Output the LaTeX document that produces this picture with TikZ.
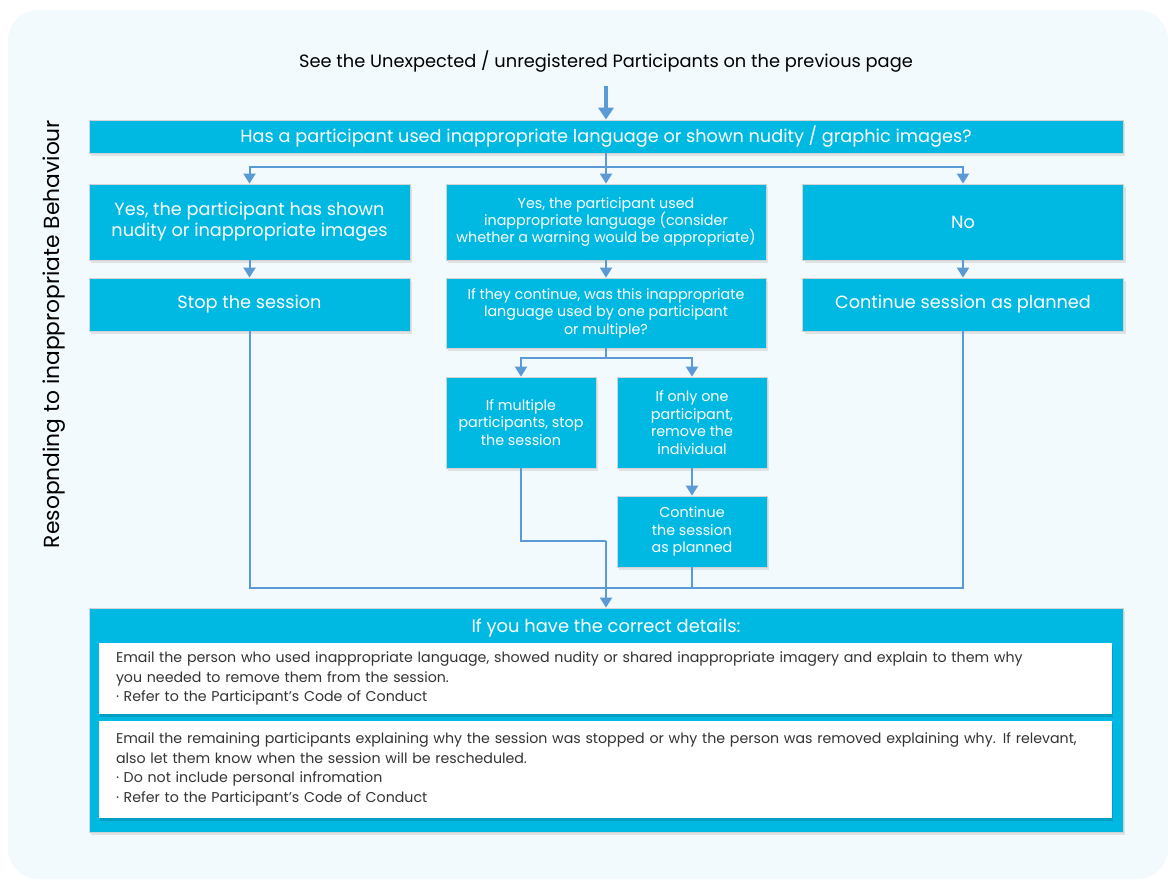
\documentclass[tikz,border=0pt]{standalone}
\usepackage{fontspec}
\setmainfont{Poppins}
\usetikzlibrary{arrows.meta,shadows}
\definecolor{bgpale}{HTML}{F3FAFD}
\definecolor{boxcyan}{HTML}{00B9E3}
\definecolor{deepcyan}{HTML}{009CC0}
\definecolor{flowblue}{HTML}{5B9BD5}
\definecolor{textgrey}{HTML}{333333}
\begin{document}
\begin{tikzpicture}[x=1pt,y=-1pt,
  cbox/.style={fill=boxcyan,draw=gray!35,line width=0.8pt,text=white,align=center,inner sep=0pt,
    drop shadow={shadow xshift=2pt,shadow yshift=-3pt,opacity=0.18}},
  wbox/.style={fill=white,text=textgrey,align=left,inner xsep=17pt,inner ysep=0pt,text width=979pt,
    minimum width=1013pt,font=\fontsize{14.2}{19.6}\selectfont,
    drop shadow={shadow xshift=1pt,shadow yshift=-3pt,fill=deepcyan,opacity=0.9}},
  big/.style={font=\fontsize{17.7}{21}\selectfont},
  small/.style={font=\fontsize{14.3}{17.4}\selectfont},
  link/.style={draw=flowblue,line width=2pt},
  flow/.style={link,-{Triangle[width=12pt,length=10pt]}}]
  \useasboundingbox (0,0) rectangle (1168,879);
  \fill[bgpale,rounded corners=30pt] (8,10) rectangle (1168,879);
  \node[font=\fontsize{17.8}{20}\selectfont,text=black] (top) at (606,62) {See the Unexpected / unregistered Participants on the previous page};
  \node[rotate=90,font=\fontsize{21.8}{24}\selectfont,text=black] (side) at (54,334) {Resopnding to inappropriate Behaviour};
  \node[cbox,big,minimum width=1034pt,minimum height=33pt] (q) at (606,136.5) {Has a participant used inappropriate language or shown nudity / graphic images?};
  \node[cbox,big,minimum width=321pt,minimum height=76pt] (yesimg) at (249.5,222) {Yes, the participant has shown\\nudity or inappropriate images};
  \node[cbox,small,minimum width=320pt,minimum height=76pt] (yeslang) at (606,222) {Yes, the participant used\\inappropriate language (consider\\whether a warning would be appropriate)};
  \node[cbox,big,minimum width=321pt,minimum height=76pt] (no) at (963,222) {No};
  \node[cbox,big,minimum width=321pt,minimum height=53pt] (stop) at (249.5,304.5) {Stop the session};
  \node[cbox,small,minimum width=320pt,minimum height=70pt] (ifcont) at (606,313) {If they continue, was this inappropriate\\language used by one participant\\or multiple?};
  \node[cbox,big,minimum width=321pt,minimum height=53pt] (cont) at (963,304.5) {Continue session as planned};
  \node[cbox,small,minimum width=150pt,minimum height=91pt] (multi) at (521,422.5) {If multiple\\participants, stop\\the session};
  \node[cbox,small,minimum width=150pt,minimum height=91pt] (one) at (692,422.5) {If only one\\participant,\\remove the\\individual};
  \node[cbox,small,minimum width=150pt,minimum height=71pt] (contone) at (692,531.5) {Continue\\the session\\as planned};
  \node[cbox,minimum width=1034pt,minimum height=224pt] (details) at (606,720) {};
  \node[font=\fontsize{17.9}{20}\selectfont,text=white] (dhead) at (606,628) {If you have the correct details:};
  \node[wbox,minimum height=71pt] (mail1) at (605.5,678.5) {Email the person who used inappropriate language, showed nudity or shared inappropriate imagery and explain to them why\\you needed to remove them from the session.\\· Refer to the Participant’s Code of Conduct};
  \node[wbox,minimum height=97pt] (mail2) at (605.5,769.5) {Email the remaining participants explaining why the session was stopped or why the person was removed explaining why. If relevant,\\also let them know when the session will be rescheduled.\\· Do not include personal infromation\\· Refer to the Participant’s Code of Conduct};
  \coordinate (split1) at (606,167);
  \coordinate (split2) at (606,358);
  \coordinate (mid) at (606,541);
  \coordinate (merge) at (606,588);
  \draw[link,line width=3.5pt,-{Triangle[width=15pt,length=12pt]}] ([yshift=-10pt]top.south) -- (q.north);
  \draw[link] (q.south) -- (split1);
  \draw[flow] (split1) -| (yesimg.north);
  \draw[flow] (split1) -- (yeslang.north);
  \draw[flow] (split1) -| (no.north);
  \draw[flow] (yesimg) -- (stop);
  \draw[flow] (yeslang) -- (ifcont);
  \draw[flow] (no) -- (cont);
  \draw[link] (ifcont.south) -- (split2);
  \draw[flow] (split2) -| (multi.north);
  \draw[flow] (split2) -| (one.north);
  \draw[flow] (one) -- (contone);
  \draw[link] (stop.south) |- (merge) -| (cont.south);
  \draw[link] (contone.south) -- (contone.south |- merge);
  \draw[link] (multi.south) |- (mid);
  \draw[flow] (mid) -- (details.north);
\end{tikzpicture}
\end{document}
